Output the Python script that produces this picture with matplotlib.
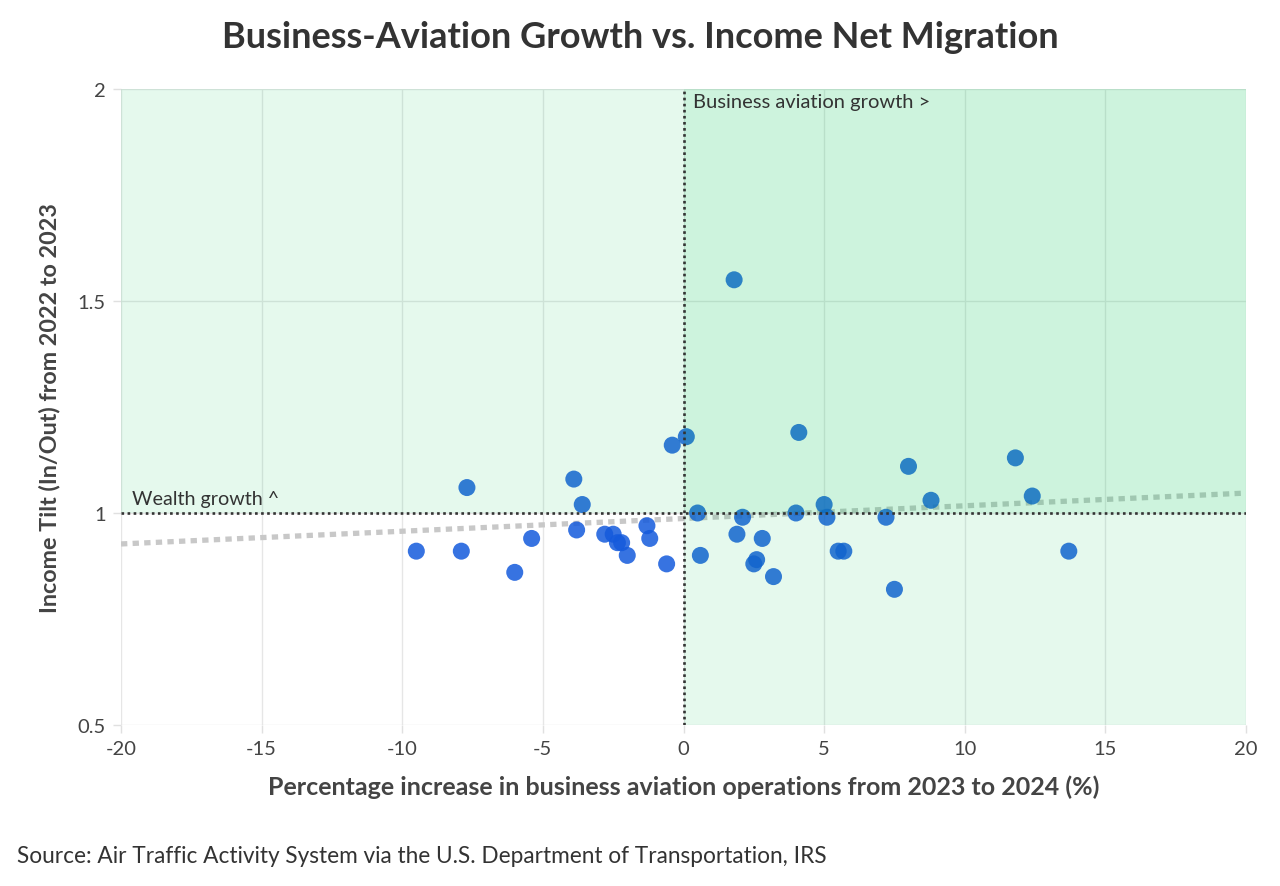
import matplotlib
matplotlib.use("Agg")
import matplotlib.pyplot as plt
import numpy as np

# ---- data ----
aviation_growth = [-9.5, -7.9, -7.7, -6.0, -5.4, -3.9, -3.8, -3.6, -2.8, -2.5, -2.35,
                   -2.2, -2.0, -1.3, -1.2, -0.6, -0.4, 0.1, 0.5, 0.6, 1.8, 1.9, 2.1,
                   2.5, 2.6, 2.8, 3.2, 4.0, 4.1, 5.0, 5.1, 5.5, 5.7, 7.2, 7.5, 8.0,
                   8.8, 11.8, 12.4, 13.7]
income_tilt = [0.91, 0.91, 1.06, 0.86, 0.94, 1.08, 0.96, 1.02, 0.95, 0.95, 0.93,
               0.93, 0.90, 0.97, 0.94, 0.88, 1.16, 1.18, 1.00, 0.90, 1.55, 0.95, 0.99,
               0.88, 0.89, 0.94, 0.85, 1.00, 1.19, 1.02, 0.99, 0.91, 0.91, 0.99, 0.82, 1.11,
               1.03, 1.13, 1.04, 0.91]
trend_x = [-20, 20]
trend_y = [0.927, 1.047]
x_ticks = [-20, -15, -10, -5, 0, 5, 10, 15, 20]
y_ticks = [0.5, 1, 1.5, 2]
y_tick_labels = ["0.5", "1", "1.5", "2"]

title = "Business-Aviation Growth vs. Income Net Migration"
x_label = "Percentage increase in business aviation operations from 2023 to 2024 (%)"
y_label = "Income Tilt (In/Out) from 2022 to 2023"
source = "Source: Air Traffic Activity System via the U.S. Department of Transportation, IRS"

plt.rcParams['font.family'] = ['Lato', 'DejaVu Sans']
plt.rcParams['axes.unicode_minus'] = False

fig = plt.figure(figsize=(12.8, 8.87), dpi=100)
ax = fig.add_axes([121/1280, 1-726/887, (1246-121)/1280, (726-90)/887])
ax.set_xlim(-20, 20)
ax.set_ylim(0.5, 2)

for s in ax.spines.values():
    s.set_visible(False)
ax.set_xticks(x_ticks)
ax.set_yticks(y_ticks)
ax.set_yticklabels(y_tick_labels)
ax.grid(True, color='#e6e6e6', linewidth=1.0, zorder=0)
ax.set_axisbelow(True)
ax.tick_params(axis='both', length=6, width=1, color='#e0e0e0', labelsize=14.5,
               labelcolor='#444444', pad=5)

# trend line
ax.plot(trend_x, trend_y, color='#c8c8c8', linewidth=3.8,
        linestyle=(0, (1.2, 1.0)), zorder=2, solid_capstyle='butt')

# points
ax.scatter(aviation_growth, income_tilt, s=150, color='#145adc', alpha=0.85,
           edgecolors='none', zorder=3)

# overlays (above points)
green = (0.0, 0.78, 0.33)
ax.axvspan(0, 20, color=green, alpha=0.1, zorder=4, linewidth=0)
ax.axhspan(1, 2, color=green, alpha=0.1, zorder=4, linewidth=0)

# reference dotted lines
ax.axvline(0, color='#333333', linewidth=1.9, linestyle=(0, (1, 1.3)), zorder=5)
ax.axhline(1, color='#333333', linewidth=1.9, linestyle=(0, (1, 1.3)), zorder=5)

ax.text(0.35, 1.99, "Business aviation growth >", fontsize=14.5, color='#333333',
        ha='left', va='top', zorder=6)
ax.text(-19.6, 1.013, "Wealth growth ^", fontsize=14.2, color='#333333',
        ha='left', va='bottom', zorder=6)

ax.set_xlabel(x_label, fontsize=18, fontweight='bold', color='#444444', labelpad=12)
ax.set_ylabel(y_label, fontsize=16.8, fontweight='bold', color='#444444', labelpad=12)

fig.text(0.5, 1-37/887, title, fontsize=26, fontweight='bold', color='#333333',
         ha='center', va='center')
fig.text(17/1280, 1-857/887, source, fontsize=16.3, color='#333333',
         ha='left', va='center')

fig.savefig("out.png", dpi=100)
